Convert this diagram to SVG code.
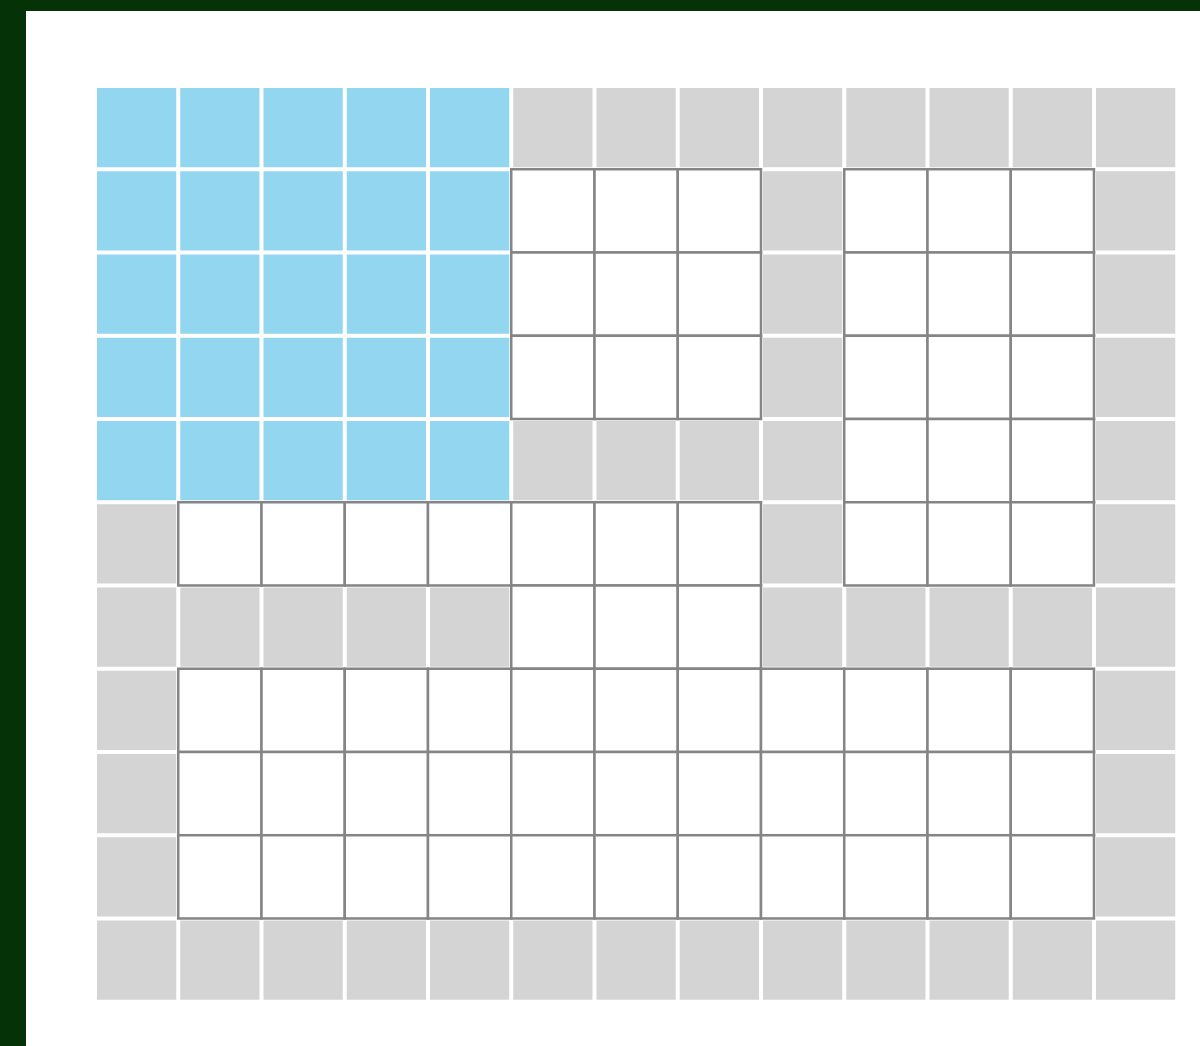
<svg xmlns="http://www.w3.org/2000/svg" width="1200" height="1046" viewBox="0 0 1200 1046">
<style>
.b{fill:#92d6f0}
.g{fill:#d4d4d4}
.w{fill:#ffffff;stroke:#858585;stroke-width:2.5}
</style>
<defs>
<rect id="c" width="79" height="79"/>
<rect id="wc" width="83" height="83"/>
</defs>
<rect x="0" y="0" width="1200" height="1046" fill="#063207"/>
<rect x="26" y="11" width="1174" height="1035" fill="#ffffff"/>
<g id="grid" transform="translate(97 88) scale(1.003) translate(-97 -88)">
<g id="blue" class="b">
<use href="#c" x="97" y="88"/><use href="#c" x="180" y="88"/><use href="#c" x="263" y="88"/><use href="#c" x="346" y="88"/><use href="#c" x="429" y="88"/>
<use href="#c" x="97" y="171"/><use href="#c" x="180" y="171"/><use href="#c" x="263" y="171"/><use href="#c" x="346" y="171"/><use href="#c" x="429" y="171"/>
<use href="#c" x="97" y="254"/><use href="#c" x="180" y="254"/><use href="#c" x="263" y="254"/><use href="#c" x="346" y="254"/><use href="#c" x="429" y="254"/>
<use href="#c" x="97" y="337"/><use href="#c" x="180" y="337"/><use href="#c" x="263" y="337"/><use href="#c" x="346" y="337"/><use href="#c" x="429" y="337"/>
<use href="#c" x="97" y="420"/><use href="#c" x="180" y="420"/><use href="#c" x="263" y="420"/><use href="#c" x="346" y="420"/><use href="#c" x="429" y="420"/>
</g>
<g id="gray" class="g">
<use href="#c" x="512" y="88"/><use href="#c" x="595" y="88"/><use href="#c" x="678" y="88"/><use href="#c" x="761" y="88"/><use href="#c" x="844" y="88"/><use href="#c" x="927" y="88"/><use href="#c" x="1010" y="88"/><use href="#c" x="1093" y="88"/>
<use href="#c" x="761" y="171"/><use href="#c" x="1093" y="171"/>
<use href="#c" x="761" y="254"/><use href="#c" x="1093" y="254"/>
<use href="#c" x="761" y="337"/><use href="#c" x="1093" y="337"/>
<use href="#c" x="512" y="420"/><use href="#c" x="595" y="420"/><use href="#c" x="678" y="420"/><use href="#c" x="761" y="420"/><use href="#c" x="1093" y="420"/>
<use href="#c" x="97" y="503"/><use href="#c" x="761" y="503"/><use href="#c" x="1093" y="503"/>
<use href="#c" x="97" y="586"/><use href="#c" x="180" y="586"/><use href="#c" x="263" y="586"/><use href="#c" x="346" y="586"/><use href="#c" x="429" y="586"/><use href="#c" x="761" y="586"/><use href="#c" x="844" y="586"/><use href="#c" x="927" y="586"/><use href="#c" x="1010" y="586"/><use href="#c" x="1093" y="586"/>
<use href="#c" x="97" y="669"/><use href="#c" x="1093" y="669"/>
<use href="#c" x="97" y="752"/><use href="#c" x="1093" y="752"/>
<use href="#c" x="97" y="835"/><use href="#c" x="1093" y="835"/>
<use href="#c" x="97" y="918"/><use href="#c" x="180" y="918"/><use href="#c" x="263" y="918"/><use href="#c" x="346" y="918"/><use href="#c" x="429" y="918"/><use href="#c" x="512" y="918"/><use href="#c" x="595" y="918"/><use href="#c" x="678" y="918"/><use href="#c" x="761" y="918"/><use href="#c" x="844" y="918"/><use href="#c" x="927" y="918"/><use href="#c" x="1010" y="918"/><use href="#c" x="1093" y="918"/>
</g>
<g id="white-a" class="w">
<use href="#wc" x="510" y="169"/><use href="#wc" x="593" y="169"/><use href="#wc" x="676" y="169"/>
<use href="#wc" x="510" y="252"/><use href="#wc" x="593" y="252"/><use href="#wc" x="676" y="252"/>
<use href="#wc" x="510" y="335"/><use href="#wc" x="593" y="335"/><use href="#wc" x="676" y="335"/>
</g>
<g id="white-b" class="w">
<use href="#wc" x="842" y="169"/><use href="#wc" x="925" y="169"/><use href="#wc" x="1008" y="169"/>
<use href="#wc" x="842" y="252"/><use href="#wc" x="925" y="252"/><use href="#wc" x="1008" y="252"/>
<use href="#wc" x="842" y="335"/><use href="#wc" x="925" y="335"/><use href="#wc" x="1008" y="335"/>
<use href="#wc" x="842" y="418"/><use href="#wc" x="925" y="418"/><use href="#wc" x="1008" y="418"/>
<use href="#wc" x="842" y="501"/><use href="#wc" x="925" y="501"/><use href="#wc" x="1008" y="501"/>
</g>
<g id="white-c" class="w">
<use href="#wc" x="178" y="501"/><use href="#wc" x="261" y="501"/><use href="#wc" x="344" y="501"/><use href="#wc" x="427" y="501"/><use href="#wc" x="510" y="501"/><use href="#wc" x="593" y="501"/><use href="#wc" x="676" y="501"/>
<use href="#wc" x="510" y="584"/><use href="#wc" x="593" y="584"/><use href="#wc" x="676" y="584"/>
</g>
<g id="white-d" class="w">
<use href="#wc" x="178" y="667"/><use href="#wc" x="261" y="667"/><use href="#wc" x="344" y="667"/><use href="#wc" x="427" y="667"/><use href="#wc" x="510" y="667"/><use href="#wc" x="593" y="667"/><use href="#wc" x="676" y="667"/><use href="#wc" x="759" y="667"/><use href="#wc" x="842" y="667"/><use href="#wc" x="925" y="667"/><use href="#wc" x="1008" y="667"/>
<use href="#wc" x="178" y="750"/><use href="#wc" x="261" y="750"/><use href="#wc" x="344" y="750"/><use href="#wc" x="427" y="750"/><use href="#wc" x="510" y="750"/><use href="#wc" x="593" y="750"/><use href="#wc" x="676" y="750"/><use href="#wc" x="759" y="750"/><use href="#wc" x="842" y="750"/><use href="#wc" x="925" y="750"/><use href="#wc" x="1008" y="750"/>
<use href="#wc" x="178" y="833"/><use href="#wc" x="261" y="833"/><use href="#wc" x="344" y="833"/><use href="#wc" x="427" y="833"/><use href="#wc" x="510" y="833"/><use href="#wc" x="593" y="833"/><use href="#wc" x="676" y="833"/><use href="#wc" x="759" y="833"/><use href="#wc" x="842" y="833"/><use href="#wc" x="925" y="833"/><use href="#wc" x="1008" y="833"/>
</g>
</g>
</svg>
